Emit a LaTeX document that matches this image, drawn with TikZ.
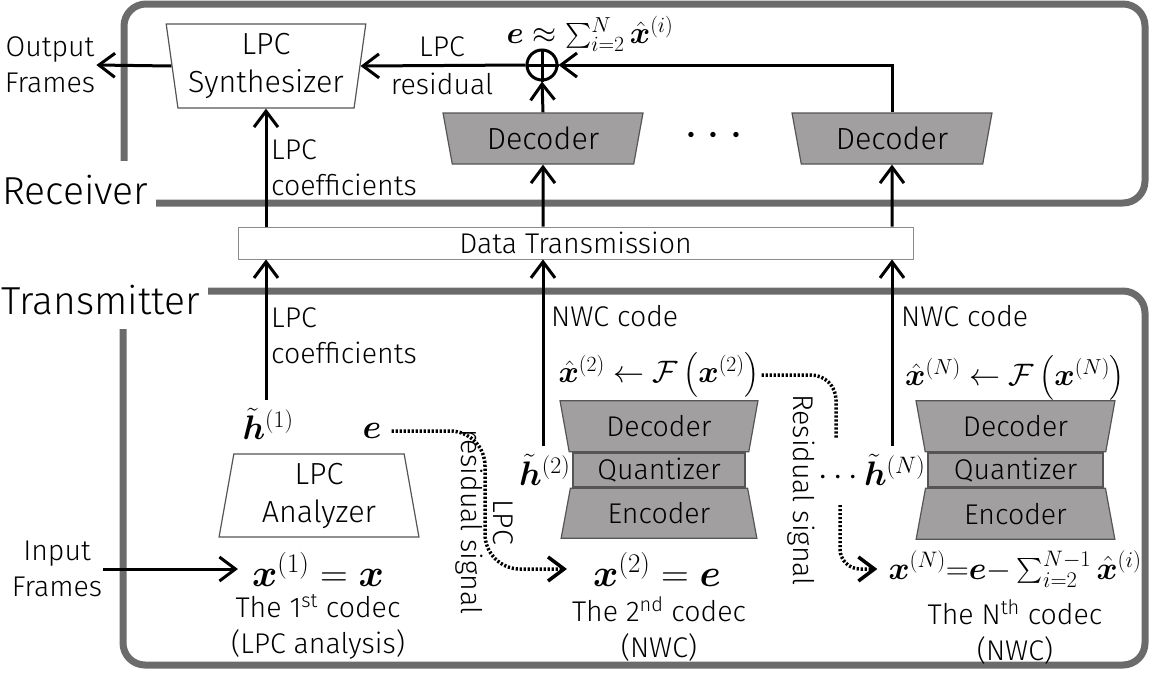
\RequirePackage{fix-cm}
\documentclass[tikz,border=0pt]{standalone}
\usepackage{fontspec}
\setmainfont{Fira Sans Light}
\usepackage{amsmath}
\usepackage{bm}
\usetikzlibrary{arrows.meta,shapes.geometric,positioning}

\definecolor{framegray}{RGB}{107,107,107}
\definecolor{nwcgray}{RGB}{161,159,159}
\definecolor{edgegray}{RGB}{85,85,85}

\newcommand{\txtsize}{\fontsize{28.5}{36}\selectfont}
\newcommand{\boxsize}{\fontsize{30.5}{38}\selectfont}
\newcommand{\stacksize}{\fontsize{28.5}{34}\selectfont}
\newcommand{\bigsize}{\fontsize{39}{46}\selectfont}
\newcommand{\mathsize}{\fontsize{34}{40}\selectfont}
\newcommand{\fsize}{\fontsize{31}{38}\selectfont}
\newcommand{\xsize}{\fontsize{38.5}{44}\selectfont}
\newcommand{\nsize}{\fontsize{32}{38}\selectfont}

\tikzset{
  unitframe/.style={draw=framegray, line width=7pt, rounded corners=22pt},
  sidelbl/.style={font=\bigsize, fill=white, anchor=west, inner xsep=8pt, minimum height=58pt},
  lbl/.style={font=\txtsize, align=center, inner sep=1pt},
  mlbl/.style={font=\mathsize, inner sep=2pt},
  tipb/.style={-{Straight Barb[length=16pt,width=24pt]}},
  arr/.style={line width=3pt, tipb},
  dotline/.style={line width=3.5pt, dash pattern=on 2.2pt off 1.8pt},
  trapbox/.style={trapezium, trapezium stretches=true, trapezium left angle=#1,
    trapezium right angle=#1, inner sep=0pt, font=\boxsize, align=center},
  lpcbox/.style={draw=edgegray, line width=1.2pt, fill=white},
  nwcbox/.style={draw=edgegray, line width=1.2pt, fill=nwcgray, font=\stacksize, inner sep=0pt},
}

\begin{document}
\begin{tikzpicture}[x=1pt, y=-1pt]

    \useasboundingbox (0,0) rectangle (1152,673);

    % the two units
    \draw[unitframe] (124,4) rectangle (1145,203);
    \node[sidelbl] (rxlbl) at (-6,190) {Receiver};
    \draw[unitframe] (123,291) rectangle (1145,665);
    \node[sidelbl] (txlbl) at (-7,300) {Transmitter};

    % receiver
    \node[trapbox=81, lpcbox, shape border rotate=180, minimum width=200pt, minimum height=84pt] (syn) at (266,66) {LPC\\Synthesizer};
    \node[lbl] (outf) at (50,65) {Output\\Frames};
    \draw[arr] (syn.west) -- (outf.east);

    \node[circle, draw, line width=3pt, minimum size=30pt, inner sep=0pt] (sum) at (542,65) {};
    \draw[line width=3pt] (sum.north) -- (sum.south) (sum.west) -- (sum.east);
    \node[mlbl, font=\fsize] (sumlbl) at (590,34) {$\bm{e}\approx\sum_{i=2}^{N}\hat{\bm{x}}^{(i)}$};
    \node[lbl] (reslbl) at (442,66) {LPC\\[2pt]residual};

    \node[trapbox=76, nwcbox, font=\boxsize, shape border rotate=180, minimum width=200pt, minimum height=51pt] (rdec1) at (543,138.5) {Decoder};
    \node[trapbox=76, nwcbox, font=\boxsize, shape border rotate=180, minimum width=200pt, minimum height=51pt] (rdec2) at (892,138.5) {Decoder};
    \node[font=\fontsize{50}{50}\selectfont] (rdots) at (714,136) {${\cdot}\mkern3mu{\cdot}\mkern3mu{\cdot}$};

    \draw[arr] (sum.west) -- (syn.east);
    \draw[arr] (rdec1.north) -- (sum.south);
    \draw[arr] (rdec2.north) |- (sum.east);

    % data transmission
    \node[draw=black!45, line width=0.8pt, minimum width=675pt, minimum height=32pt, inner sep=0pt, font=\txtsize] (dt) at (575.5,243) {Data Transmission};

    \draw[arr] (dt.north -| syn.south) -- (syn.south);
    \node[lbl, align=left, anchor=west] (rxcoef) at (270,168) {LPC\\coefficients};
    \draw[arr] (dt.north -| rdec1) -- (rdec1.south);
    \draw[arr] (dt.north -| rdec2) -- (rdec2.south);

    % 1st codec
    \node[trapbox=81.4, lpcbox, minimum width=200pt, minimum height=83pt] (ana) at (319,495.5) {LPC\\Analyzer};
    \node[mlbl] (h1) at (268,424) {$\tilde{\bm{h}}^{(1)}$};
    \node[mlbl] (enode) at (372,431) {$\bm{e}$};
    \draw[arr] ([yshift=6pt]h1.north -| syn.south) -- (dt.south -| syn.south);
    \node[lbl, align=left, anchor=west] (txcoef) at (270,336) {LPC\\coefficients};

    \node[mlbl, font=\xsize] (x1) at (318,569) {$\bm{x}^{(1)}=\bm{x}$};
    \node[lbl] (inf) at (57,569) {Input\\Frames};
    \draw[arr] (inf.east) -- ([xshift=-12pt]x1.west);
    \node[lbl] (c1) at (318,627) {The 1\textsuperscript{st} codec\\(LPC analysis)};

    % 2nd codec
    \node[nwcbox, draw, minimum width=172pt, minimum height=34pt] (q2) at (659,470) {Quantizer};
    \node[trapbox=76, nwcbox, shape border rotate=180, minimum width=198pt, minimum height=51pt, above=0pt of q2] (d2) {Decoder};
    \node[trapbox=76, nwcbox, minimum width=196pt, minimum height=50pt, below=0pt of q2] (e2) {Encoder};
    \node[mlbl, font=\fsize] (f2) at (659,375) {$\hat{\bm{x}}^{(2)}\leftarrow\mathcal{F}\left(\bm{x}^{(2)}\right)$};
    \node[mlbl, left=0pt of q2] (h2) {$\tilde{\bm{h}}^{(2)}$};
    \draw[arr] ([yshift=6pt]h2.north -| rdec1) -- (dt.south -| rdec1);
    \node[lbl, anchor=west] (nwc2) at (550,316) {NWC code};
    \node[mlbl, font=\xsize] (x2) at (657,569) {$\bm{x}^{(2)}=\bm{e}$};
    \node[lbl] (c2) at (659,629) {The 2\textsuperscript{nd} codec\\(NWC)};

    \draw[dotline, rounded corners=35pt, tipb] ([xshift=8pt]enode.east) -- (485,431) -- (485,569) -- ([xshift=-24pt]x2.west);
    \node[lbl, rotate=-90] (lrs) at (484,522) {LPC\\[-4pt]residual signal};

    % Nth codec
    \node[nwcbox, draw, minimum width=175pt, minimum height=34pt] (qN) at (1015.5,470) {Quantizer};
    \node[trapbox=76, nwcbox, shape border rotate=180, minimum width=199pt, minimum height=51pt, above=0pt of qN] (dN) {Decoder};
    \node[trapbox=76, nwcbox, minimum width=199pt, minimum height=51pt, below=0pt of qN] (eN) {Encoder};
    \node[mlbl, font=\fsize] (fN) at (1015,378) {$\hat{\bm{x}}^{(N)}\leftarrow\mathcal{F}\left(\bm{x}^{(N)}\right)$};
    \node[mlbl, left=0pt of qN] (hN) {$\cdots\tilde{\bm{h}}^{(N)}$};
    \draw[arr] ([yshift=6pt]hN.north -| rdec2) -- (dt.south -| rdec2);
    \node[lbl, anchor=west] (nwcN) at (900,316) {NWC code};
    \node[mlbl, font=\nsize] (xN) at (1015,569) {$\bm{x}^{(N)}{=}\bm{e}{-}\sum_{i=2}^{N-1}\hat{\bm{x}}^{(i)}$};
    \node[lbl] (cN) at (1015,632) {The N\textsuperscript{th} codec\\(NWC)};

    \coordinate (resA) at (836,438);
    \coordinate (resB) at (840,505);
    \draw[dotline, rounded corners=25pt] (f2.east) -- (836,375) -- (resA);
    \draw[dotline, rounded corners=20pt, tipb] (resB) -- (840,569) -- ([xshift=-9pt]xN.west);
    \node[lbl, rotate=-90] (rsig) at (801,490) {Residual signal};

\end{tikzpicture}
\end{document}
